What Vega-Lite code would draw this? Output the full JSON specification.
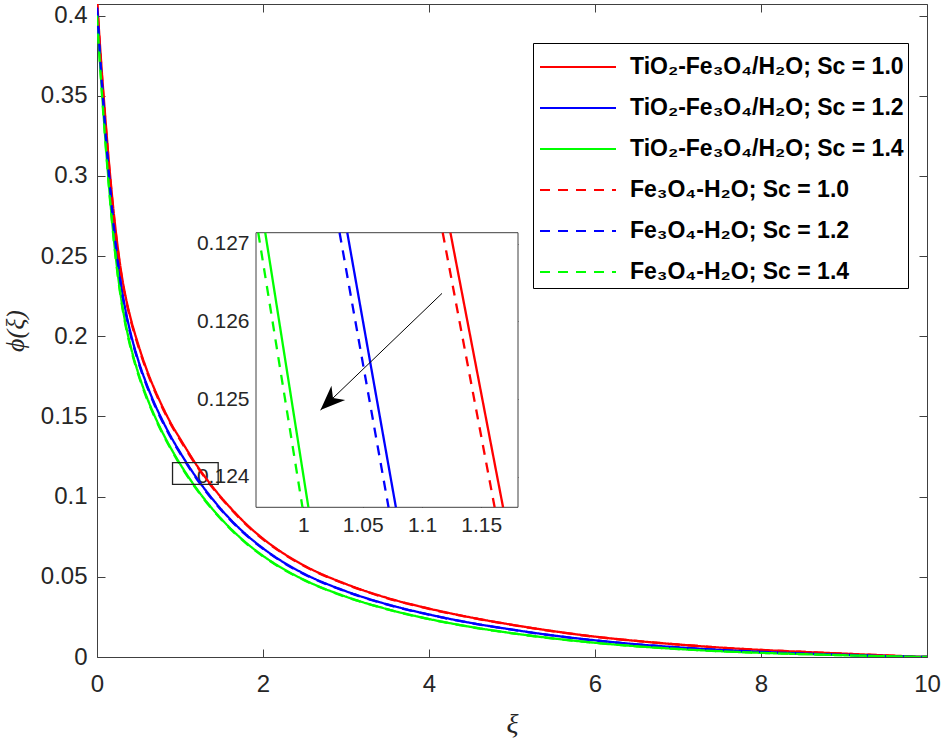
{
  "$schema": "https://vega.github.io/schema/vega-lite/v6.json",
  "width": 830,
  "height": 653,
  "autosize": "none",
  "padding": {"left": 97, "top": 4, "right": 16, "bottom": 83},
  "background": "white",
  "config": {
    "view": {"stroke": "#404040", "strokeWidth": 1},
    "axis": {"grid": false, "labelFlush": false, "domainColor": "#404040", "tickColor": "#404040", "labelColor": "#262626", "labelFont": "Liberation Sans", "titleColor": "#262626", "titleFontWeight": "normal"},
    "legend": {
      "orient": "none", "legendX": 436, "legendY": 39, "padding": 4,
      "strokeColor": "#000000", "fillColor": "#ffffff",
      "symbolType": "M-2,0H2", "symbolSize": 1444, "symbolStrokeWidth": 2, "symbolOffset": 21,
      "labelOffset": 32, "labelFont": "Liberation Sans", "labelFontSize": 23, "labelFontWeight": "bold", "labelColor": "#000000", "labelLimit": 400,
      "rowPadding": 9, "title": null
    }
  },
  "datasets": {
    "curves": [
      {"series": "TiO₂-Fe₃O₄/H₂O; Sc = 1.0", "xi": 0, "phi": 0.41},
      {"series": "TiO₂-Fe₃O₄/H₂O; Sc = 1.0", "xi": 0.05, "phi": 0.3710},
      {"series": "TiO₂-Fe₃O₄/H₂O; Sc = 1.0", "xi": 0.1, "phi": 0.3364},
      {"series": "TiO₂-Fe₃O₄/H₂O; Sc = 1.0", "xi": 0.15, "phi": 0.3050},
      {"series": "TiO₂-Fe₃O₄/H₂O; Sc = 1.0", "xi": 0.2, "phi": 0.2779},
      {"series": "TiO₂-Fe₃O₄/H₂O; Sc = 1.0", "xi": 0.25, "phi": 0.2554},
      {"series": "TiO₂-Fe₃O₄/H₂O; Sc = 1.0", "xi": 0.3, "phi": 0.2373},
      {"series": "TiO₂-Fe₃O₄/H₂O; Sc = 1.0", "xi": 0.35, "phi": 0.2234},
      {"series": "TiO₂-Fe₃O₄/H₂O; Sc = 1.0", "xi": 0.4, "phi": 0.2123},
      {"series": "TiO₂-Fe₃O₄/H₂O; Sc = 1.0", "xi": 0.5, "phi": 0.1943},
      {"series": "TiO₂-Fe₃O₄/H₂O; Sc = 1.0", "xi": 0.6, "phi": 0.1790},
      {"series": "TiO₂-Fe₃O₄/H₂O; Sc = 1.0", "xi": 0.7, "phi": 0.1662},
      {"series": "TiO₂-Fe₃O₄/H₂O; Sc = 1.0", "xi": 0.8, "phi": 0.1549},
      {"series": "TiO₂-Fe₃O₄/H₂O; Sc = 1.0", "xi": 0.9, "phi": 0.1448},
      {"series": "TiO₂-Fe₃O₄/H₂O; Sc = 1.0", "xi": 1.0, "phi": 0.1362},
      {"series": "TiO₂-Fe₃O₄/H₂O; Sc = 1.0", "xi": 1.2, "phi": 0.1197},
      {"series": "TiO₂-Fe₃O₄/H₂O; Sc = 1.0", "xi": 1.4, "phi": 0.1056},
      {"series": "TiO₂-Fe₃O₄/H₂O; Sc = 1.0", "xi": 1.6, "phi": 0.0935},
      {"series": "TiO₂-Fe₃O₄/H₂O; Sc = 1.0", "xi": 1.8, "phi": 0.0828},
      {"series": "TiO₂-Fe₃O₄/H₂O; Sc = 1.0", "xi": 2.0, "phi": 0.0738},
      {"series": "TiO₂-Fe₃O₄/H₂O; Sc = 1.0", "xi": 2.2, "phi": 0.0662},
      {"series": "TiO₂-Fe₃O₄/H₂O; Sc = 1.0", "xi": 2.5, "phi": 0.0569},
      {"series": "TiO₂-Fe₃O₄/H₂O; Sc = 1.0", "xi": 3.0, "phi": 0.0455},
      {"series": "TiO₂-Fe₃O₄/H₂O; Sc = 1.0", "xi": 3.5, "phi": 0.0368},
      {"series": "TiO₂-Fe₃O₄/H₂O; Sc = 1.0", "xi": 4.0, "phi": 0.0302},
      {"series": "TiO₂-Fe₃O₄/H₂O; Sc = 1.0", "xi": 4.5, "phi": 0.0247},
      {"series": "TiO₂-Fe₃O₄/H₂O; Sc = 1.0", "xi": 5.0, "phi": 0.0201},
      {"series": "TiO₂-Fe₃O₄/H₂O; Sc = 1.0", "xi": 5.5, "phi": 0.0161},
      {"series": "TiO₂-Fe₃O₄/H₂O; Sc = 1.0", "xi": 6.0, "phi": 0.0127},
      {"series": "TiO₂-Fe₃O₄/H₂O; Sc = 1.0", "xi": 6.5, "phi": 0.0100},
      {"series": "TiO₂-Fe₃O₄/H₂O; Sc = 1.0", "xi": 7.0, "phi": 0.0078},
      {"series": "TiO₂-Fe₃O₄/H₂O; Sc = 1.0", "xi": 7.5, "phi": 0.0059},
      {"series": "TiO₂-Fe₃O₄/H₂O; Sc = 1.0", "xi": 8.0, "phi": 0.0044},
      {"series": "TiO₂-Fe₃O₄/H₂O; Sc = 1.0", "xi": 8.5, "phi": 0.0032},
      {"series": "TiO₂-Fe₃O₄/H₂O; Sc = 1.0", "xi": 9.0, "phi": 0.0021},
      {"series": "TiO₂-Fe₃O₄/H₂O; Sc = 1.0", "xi": 9.5, "phi": 0.0010},
      {"series": "TiO₂-Fe₃O₄/H₂O; Sc = 1.0", "xi": 10, "phi": 0},
      {"series": "TiO₂-Fe₃O₄/H₂O; Sc = 1.2", "xi": 0, "phi": 0.405},
      {"series": "TiO₂-Fe₃O₄/H₂O; Sc = 1.2", "xi": 0.05, "phi": 0.3656},
      {"series": "TiO₂-Fe₃O₄/H₂O; Sc = 1.2", "xi": 0.1, "phi": 0.3300},
      {"series": "TiO₂-Fe₃O₄/H₂O; Sc = 1.2", "xi": 0.15, "phi": 0.2978},
      {"series": "TiO₂-Fe₃O₄/H₂O; Sc = 1.2", "xi": 0.2, "phi": 0.2701},
      {"series": "TiO₂-Fe₃O₄/H₂O; Sc = 1.2", "xi": 0.25, "phi": 0.2472},
      {"series": "TiO₂-Fe₃O₄/H₂O; Sc = 1.2", "xi": 0.3, "phi": 0.2289},
      {"series": "TiO₂-Fe₃O₄/H₂O; Sc = 1.2", "xi": 0.35, "phi": 0.2146},
      {"series": "TiO₂-Fe₃O₄/H₂O; Sc = 1.2", "xi": 0.4, "phi": 0.2030},
      {"series": "TiO₂-Fe₃O₄/H₂O; Sc = 1.2", "xi": 0.5, "phi": 0.1845},
      {"series": "TiO₂-Fe₃O₄/H₂O; Sc = 1.2", "xi": 0.6, "phi": 0.1698},
      {"series": "TiO₂-Fe₃O₄/H₂O; Sc = 1.2", "xi": 0.7, "phi": 0.1572},
      {"series": "TiO₂-Fe₃O₄/H₂O; Sc = 1.2", "xi": 0.8, "phi": 0.1463},
      {"series": "TiO₂-Fe₃O₄/H₂O; Sc = 1.2", "xi": 0.9, "phi": 0.1365},
      {"series": "TiO₂-Fe₃O₄/H₂O; Sc = 1.2", "xi": 1.0, "phi": 0.1277},
      {"series": "TiO₂-Fe₃O₄/H₂O; Sc = 1.2", "xi": 1.2, "phi": 0.1117},
      {"series": "TiO₂-Fe₃O₄/H₂O; Sc = 1.2", "xi": 1.4, "phi": 0.0980},
      {"series": "TiO₂-Fe₃O₄/H₂O; Sc = 1.2", "xi": 1.6, "phi": 0.0862},
      {"series": "TiO₂-Fe₃O₄/H₂O; Sc = 1.2", "xi": 1.8, "phi": 0.0762},
      {"series": "TiO₂-Fe₃O₄/H₂O; Sc = 1.2", "xi": 2.0, "phi": 0.0678},
      {"series": "TiO₂-Fe₃O₄/H₂O; Sc = 1.2", "xi": 2.2, "phi": 0.0606},
      {"series": "TiO₂-Fe₃O₄/H₂O; Sc = 1.2", "xi": 2.5, "phi": 0.0518},
      {"series": "TiO₂-Fe₃O₄/H₂O; Sc = 1.2", "xi": 3.0, "phi": 0.0410},
      {"series": "TiO₂-Fe₃O₄/H₂O; Sc = 1.2", "xi": 3.5, "phi": 0.0328},
      {"series": "TiO₂-Fe₃O₄/H₂O; Sc = 1.2", "xi": 4.0, "phi": 0.0265},
      {"series": "TiO₂-Fe₃O₄/H₂O; Sc = 1.2", "xi": 4.5, "phi": 0.0213},
      {"series": "TiO₂-Fe₃O₄/H₂O; Sc = 1.2", "xi": 5.0, "phi": 0.0171},
      {"series": "TiO₂-Fe₃O₄/H₂O; Sc = 1.2", "xi": 5.5, "phi": 0.0134},
      {"series": "TiO₂-Fe₃O₄/H₂O; Sc = 1.2", "xi": 6.0, "phi": 0.0104},
      {"series": "TiO₂-Fe₃O₄/H₂O; Sc = 1.2", "xi": 6.5, "phi": 0.0079},
      {"series": "TiO₂-Fe₃O₄/H₂O; Sc = 1.2", "xi": 7.0, "phi": 0.0060},
      {"series": "TiO₂-Fe₃O₄/H₂O; Sc = 1.2", "xi": 7.5, "phi": 0.0044},
      {"series": "TiO₂-Fe₃O₄/H₂O; Sc = 1.2", "xi": 8.0, "phi": 0.0032},
      {"series": "TiO₂-Fe₃O₄/H₂O; Sc = 1.2", "xi": 8.5, "phi": 0.0022},
      {"series": "TiO₂-Fe₃O₄/H₂O; Sc = 1.2", "xi": 9.0, "phi": 0.0014},
      {"series": "TiO₂-Fe₃O₄/H₂O; Sc = 1.2", "xi": 9.5, "phi": 0.0006},
      {"series": "TiO₂-Fe₃O₄/H₂O; Sc = 1.2", "xi": 10, "phi": 0},
      {"series": "TiO₂-Fe₃O₄/H₂O; Sc = 1.4", "xi": 0, "phi": 0.400},
      {"series": "TiO₂-Fe₃O₄/H₂O; Sc = 1.4", "xi": 0.05, "phi": 0.3602},
      {"series": "TiO₂-Fe₃O₄/H₂O; Sc = 1.4", "xi": 0.1, "phi": 0.3235},
      {"series": "TiO₂-Fe₃O₄/H₂O; Sc = 1.4", "xi": 0.15, "phi": 0.2905},
      {"series": "TiO₂-Fe₃O₄/H₂O; Sc = 1.4", "xi": 0.2, "phi": 0.2622},
      {"series": "TiO₂-Fe₃O₄/H₂O; Sc = 1.4", "xi": 0.25, "phi": 0.2391},
      {"series": "TiO₂-Fe₃O₄/H₂O; Sc = 1.4", "xi": 0.3, "phi": 0.2207},
      {"series": "TiO₂-Fe₃O₄/H₂O; Sc = 1.4", "xi": 0.35, "phi": 0.2063},
      {"series": "TiO₂-Fe₃O₄/H₂O; Sc = 1.4", "xi": 0.4, "phi": 0.1948},
      {"series": "TiO₂-Fe₃O₄/H₂O; Sc = 1.4", "xi": 0.5, "phi": 0.1766},
      {"series": "TiO₂-Fe₃O₄/H₂O; Sc = 1.4", "xi": 0.6, "phi": 0.1620},
      {"series": "TiO₂-Fe₃O₄/H₂O; Sc = 1.4", "xi": 0.7, "phi": 0.1497},
      {"series": "TiO₂-Fe₃O₄/H₂O; Sc = 1.4", "xi": 0.8, "phi": 0.1389},
      {"series": "TiO₂-Fe₃O₄/H₂O; Sc = 1.4", "xi": 0.9, "phi": 0.1293},
      {"series": "TiO₂-Fe₃O₄/H₂O; Sc = 1.4", "xi": 1.0, "phi": 0.1205},
      {"series": "TiO₂-Fe₃O₄/H₂O; Sc = 1.4", "xi": 1.2, "phi": 0.1050},
      {"series": "TiO₂-Fe₃O₄/H₂O; Sc = 1.4", "xi": 1.4, "phi": 0.0918},
      {"series": "TiO₂-Fe₃O₄/H₂O; Sc = 1.4", "xi": 1.6, "phi": 0.0806},
      {"series": "TiO₂-Fe₃O₄/H₂O; Sc = 1.4", "xi": 1.8, "phi": 0.0711},
      {"series": "TiO₂-Fe₃O₄/H₂O; Sc = 1.4", "xi": 2.0, "phi": 0.0631},
      {"series": "TiO₂-Fe₃O₄/H₂O; Sc = 1.4", "xi": 2.2, "phi": 0.0563},
      {"series": "TiO₂-Fe₃O₄/H₂O; Sc = 1.4", "xi": 2.5, "phi": 0.0480},
      {"series": "TiO₂-Fe₃O₄/H₂O; Sc = 1.4", "xi": 3.0, "phi": 0.0376},
      {"series": "TiO₂-Fe₃O₄/H₂O; Sc = 1.4", "xi": 3.5, "phi": 0.0298},
      {"series": "TiO₂-Fe₃O₄/H₂O; Sc = 1.4", "xi": 4.0, "phi": 0.0237},
      {"series": "TiO₂-Fe₃O₄/H₂O; Sc = 1.4", "xi": 4.5, "phi": 0.0188},
      {"series": "TiO₂-Fe₃O₄/H₂O; Sc = 1.4", "xi": 5.0, "phi": 0.01486},
      {"series": "TiO₂-Fe₃O₄/H₂O; Sc = 1.4", "xi": 5.5, "phi": 0.01157},
      {"series": "TiO₂-Fe₃O₄/H₂O; Sc = 1.4", "xi": 6.0, "phi": 0.00886},
      {"series": "TiO₂-Fe₃O₄/H₂O; Sc = 1.4", "xi": 6.5, "phi": 0.0067},
      {"series": "TiO₂-Fe₃O₄/H₂O; Sc = 1.4", "xi": 7.0, "phi": 0.0050},
      {"series": "TiO₂-Fe₃O₄/H₂O; Sc = 1.4", "xi": 7.5, "phi": 0.00364},
      {"series": "TiO₂-Fe₃O₄/H₂O; Sc = 1.4", "xi": 8.0, "phi": 0.0026},
      {"series": "TiO₂-Fe₃O₄/H₂O; Sc = 1.4", "xi": 8.5, "phi": 0.0018},
      {"series": "TiO₂-Fe₃O₄/H₂O; Sc = 1.4", "xi": 9.0, "phi": 0.0011},
      {"series": "TiO₂-Fe₃O₄/H₂O; Sc = 1.4", "xi": 9.5, "phi": 0.0005},
      {"series": "TiO₂-Fe₃O₄/H₂O; Sc = 1.4", "xi": 10, "phi": 0},
      {"series": "Fe₃O₄-H₂O; Sc = 1.0", "xi": 0, "phi": 0.41},
      {"series": "Fe₃O₄-H₂O; Sc = 1.0", "xi": 0.05, "phi": 0.3691},
      {"series": "Fe₃O₄-H₂O; Sc = 1.0", "xi": 0.1, "phi": 0.3347},
      {"series": "Fe₃O₄-H₂O; Sc = 1.0", "xi": 0.15, "phi": 0.3035},
      {"series": "Fe₃O₄-H₂O; Sc = 1.0", "xi": 0.2, "phi": 0.2765},
      {"series": "Fe₃O₄-H₂O; Sc = 1.0", "xi": 0.25, "phi": 0.2541},
      {"series": "Fe₃O₄-H₂O; Sc = 1.0", "xi": 0.3, "phi": 0.2361},
      {"series": "Fe₃O₄-H₂O; Sc = 1.0", "xi": 0.35, "phi": 0.2223},
      {"series": "Fe₃O₄-H₂O; Sc = 1.0", "xi": 0.4, "phi": 0.2112},
      {"series": "Fe₃O₄-H₂O; Sc = 1.0", "xi": 0.5, "phi": 0.1933},
      {"series": "Fe₃O₄-H₂O; Sc = 1.0", "xi": 0.6, "phi": 0.1781},
      {"series": "Fe₃O₄-H₂O; Sc = 1.0", "xi": 0.7, "phi": 0.1654},
      {"series": "Fe₃O₄-H₂O; Sc = 1.0", "xi": 0.8, "phi": 0.1541},
      {"series": "Fe₃O₄-H₂O; Sc = 1.0", "xi": 0.9, "phi": 0.1441},
      {"series": "Fe₃O₄-H₂O; Sc = 1.0", "xi": 1.0, "phi": 0.1355},
      {"series": "Fe₃O₄-H₂O; Sc = 1.0", "xi": 1.2, "phi": 0.1191},
      {"series": "Fe₃O₄-H₂O; Sc = 1.0", "xi": 1.4, "phi": 0.1051},
      {"series": "Fe₃O₄-H₂O; Sc = 1.0", "xi": 1.6, "phi": 0.0930},
      {"series": "Fe₃O₄-H₂O; Sc = 1.0", "xi": 1.8, "phi": 0.0824},
      {"series": "Fe₃O₄-H₂O; Sc = 1.0", "xi": 2.0, "phi": 0.0734},
      {"series": "Fe₃O₄-H₂O; Sc = 1.0", "xi": 2.2, "phi": 0.0659},
      {"series": "Fe₃O₄-H₂O; Sc = 1.0", "xi": 2.5, "phi": 0.0566},
      {"series": "Fe₃O₄-H₂O; Sc = 1.0", "xi": 3.0, "phi": 0.0453},
      {"series": "Fe₃O₄-H₂O; Sc = 1.0", "xi": 3.5, "phi": 0.0366},
      {"series": "Fe₃O₄-H₂O; Sc = 1.0", "xi": 4.0, "phi": 0.0300},
      {"series": "Fe₃O₄-H₂O; Sc = 1.0", "xi": 4.5, "phi": 0.0246},
      {"series": "Fe₃O₄-H₂O; Sc = 1.0", "xi": 5.0, "phi": 0.0200},
      {"series": "Fe₃O₄-H₂O; Sc = 1.0", "xi": 5.5, "phi": 0.0160},
      {"series": "Fe₃O₄-H₂O; Sc = 1.0", "xi": 6.0, "phi": 0.0126},
      {"series": "Fe₃O₄-H₂O; Sc = 1.0", "xi": 6.5, "phi": 0.0100},
      {"series": "Fe₃O₄-H₂O; Sc = 1.0", "xi": 7.0, "phi": 0.0078},
      {"series": "Fe₃O₄-H₂O; Sc = 1.0", "xi": 7.5, "phi": 0.0059},
      {"series": "Fe₃O₄-H₂O; Sc = 1.0", "xi": 8.0, "phi": 0.0044},
      {"series": "Fe₃O₄-H₂O; Sc = 1.0", "xi": 8.5, "phi": 0.0032},
      {"series": "Fe₃O₄-H₂O; Sc = 1.0", "xi": 9.0, "phi": 0.0021},
      {"series": "Fe₃O₄-H₂O; Sc = 1.0", "xi": 9.5, "phi": 0.0010},
      {"series": "Fe₃O₄-H₂O; Sc = 1.0", "xi": 10, "phi": 0},
      {"series": "Fe₃O₄-H₂O; Sc = 1.2", "xi": 0, "phi": 0.405},
      {"series": "Fe₃O₄-H₂O; Sc = 1.2", "xi": 0.05, "phi": 0.3638},
      {"series": "Fe₃O₄-H₂O; Sc = 1.2", "xi": 0.1, "phi": 0.3284},
      {"series": "Fe₃O₄-H₂O; Sc = 1.2", "xi": 0.15, "phi": 0.2963},
      {"series": "Fe₃O₄-H₂O; Sc = 1.2", "xi": 0.2, "phi": 0.2687},
      {"series": "Fe₃O₄-H₂O; Sc = 1.2", "xi": 0.25, "phi": 0.2460},
      {"series": "Fe₃O₄-H₂O; Sc = 1.2", "xi": 0.3, "phi": 0.2278},
      {"series": "Fe₃O₄-H₂O; Sc = 1.2", "xi": 0.35, "phi": 0.2135},
      {"series": "Fe₃O₄-H₂O; Sc = 1.2", "xi": 0.4, "phi": 0.2020},
      {"series": "Fe₃O₄-H₂O; Sc = 1.2", "xi": 0.5, "phi": 0.1836},
      {"series": "Fe₃O₄-H₂O; Sc = 1.2", "xi": 0.6, "phi": 0.1690},
      {"series": "Fe₃O₄-H₂O; Sc = 1.2", "xi": 0.7, "phi": 0.1564},
      {"series": "Fe₃O₄-H₂O; Sc = 1.2", "xi": 0.8, "phi": 0.1456},
      {"series": "Fe₃O₄-H₂O; Sc = 1.2", "xi": 0.9, "phi": 0.1358},
      {"series": "Fe₃O₄-H₂O; Sc = 1.2", "xi": 1.0, "phi": 0.1271},
      {"series": "Fe₃O₄-H₂O; Sc = 1.2", "xi": 1.2, "phi": 0.1111},
      {"series": "Fe₃O₄-H₂O; Sc = 1.2", "xi": 1.4, "phi": 0.0975},
      {"series": "Fe₃O₄-H₂O; Sc = 1.2", "xi": 1.6, "phi": 0.0858},
      {"series": "Fe₃O₄-H₂O; Sc = 1.2", "xi": 1.8, "phi": 0.0758},
      {"series": "Fe₃O₄-H₂O; Sc = 1.2", "xi": 2.0, "phi": 0.0675},
      {"series": "Fe₃O₄-H₂O; Sc = 1.2", "xi": 2.2, "phi": 0.0603},
      {"series": "Fe₃O₄-H₂O; Sc = 1.2", "xi": 2.5, "phi": 0.0515},
      {"series": "Fe₃O₄-H₂O; Sc = 1.2", "xi": 3.0, "phi": 0.0408},
      {"series": "Fe₃O₄-H₂O; Sc = 1.2", "xi": 3.5, "phi": 0.0326},
      {"series": "Fe₃O₄-H₂O; Sc = 1.2", "xi": 4.0, "phi": 0.0264},
      {"series": "Fe₃O₄-H₂O; Sc = 1.2", "xi": 4.5, "phi": 0.0212},
      {"series": "Fe₃O₄-H₂O; Sc = 1.2", "xi": 5.0, "phi": 0.0170},
      {"series": "Fe₃O₄-H₂O; Sc = 1.2", "xi": 5.5, "phi": 0.0133},
      {"series": "Fe₃O₄-H₂O; Sc = 1.2", "xi": 6.0, "phi": 0.0103},
      {"series": "Fe₃O₄-H₂O; Sc = 1.2", "xi": 6.5, "phi": 0.0079},
      {"series": "Fe₃O₄-H₂O; Sc = 1.2", "xi": 7.0, "phi": 0.0060},
      {"series": "Fe₃O₄-H₂O; Sc = 1.2", "xi": 7.5, "phi": 0.0044},
      {"series": "Fe₃O₄-H₂O; Sc = 1.2", "xi": 8.0, "phi": 0.0032},
      {"series": "Fe₃O₄-H₂O; Sc = 1.2", "xi": 8.5, "phi": 0.0022},
      {"series": "Fe₃O₄-H₂O; Sc = 1.2", "xi": 9.0, "phi": 0.0014},
      {"series": "Fe₃O₄-H₂O; Sc = 1.2", "xi": 9.5, "phi": 0.0006},
      {"series": "Fe₃O₄-H₂O; Sc = 1.2", "xi": 10, "phi": 0},
      {"series": "Fe₃O₄-H₂O; Sc = 1.4", "xi": 0, "phi": 0.400},
      {"series": "Fe₃O₄-H₂O; Sc = 1.4", "xi": 0.05, "phi": 0.3584},
      {"series": "Fe₃O₄-H₂O; Sc = 1.4", "xi": 0.1, "phi": 0.3219},
      {"series": "Fe₃O₄-H₂O; Sc = 1.4", "xi": 0.15, "phi": 0.2890},
      {"series": "Fe₃O₄-H₂O; Sc = 1.4", "xi": 0.2, "phi": 0.2609},
      {"series": "Fe₃O₄-H₂O; Sc = 1.4", "xi": 0.25, "phi": 0.2379},
      {"series": "Fe₃O₄-H₂O; Sc = 1.4", "xi": 0.3, "phi": 0.2196},
      {"series": "Fe₃O₄-H₂O; Sc = 1.4", "xi": 0.35, "phi": 0.2053},
      {"series": "Fe₃O₄-H₂O; Sc = 1.4", "xi": 0.4, "phi": 0.1938},
      {"series": "Fe₃O₄-H₂O; Sc = 1.4", "xi": 0.5, "phi": 0.1757},
      {"series": "Fe₃O₄-H₂O; Sc = 1.4", "xi": 0.6, "phi": 0.1612},
      {"series": "Fe₃O₄-H₂O; Sc = 1.4", "xi": 0.7, "phi": 0.1490},
      {"series": "Fe₃O₄-H₂O; Sc = 1.4", "xi": 0.8, "phi": 0.1382},
      {"series": "Fe₃O₄-H₂O; Sc = 1.4", "xi": 0.9, "phi": 0.1287},
      {"series": "Fe₃O₄-H₂O; Sc = 1.4", "xi": 1.0, "phi": 0.1199},
      {"series": "Fe₃O₄-H₂O; Sc = 1.4", "xi": 1.2, "phi": 0.1045},
      {"series": "Fe₃O₄-H₂O; Sc = 1.4", "xi": 1.4, "phi": 0.0913},
      {"series": "Fe₃O₄-H₂O; Sc = 1.4", "xi": 1.6, "phi": 0.0802},
      {"series": "Fe₃O₄-H₂O; Sc = 1.4", "xi": 1.8, "phi": 0.0707},
      {"series": "Fe₃O₄-H₂O; Sc = 1.4", "xi": 2.0, "phi": 0.0628},
      {"series": "Fe₃O₄-H₂O; Sc = 1.4", "xi": 2.2, "phi": 0.0560},
      {"series": "Fe₃O₄-H₂O; Sc = 1.4", "xi": 2.5, "phi": 0.0478},
      {"series": "Fe₃O₄-H₂O; Sc = 1.4", "xi": 3.0, "phi": 0.0374},
      {"series": "Fe₃O₄-H₂O; Sc = 1.4", "xi": 3.5, "phi": 0.0297},
      {"series": "Fe₃O₄-H₂O; Sc = 1.4", "xi": 4.0, "phi": 0.0236},
      {"series": "Fe₃O₄-H₂O; Sc = 1.4", "xi": 4.5, "phi": 0.0187},
      {"series": "Fe₃O₄-H₂O; Sc = 1.4", "xi": 5.0, "phi": 0.0148},
      {"series": "Fe₃O₄-H₂O; Sc = 1.4", "xi": 5.5, "phi": 0.0115},
      {"series": "Fe₃O₄-H₂O; Sc = 1.4", "xi": 6.0, "phi": 0.0088},
      {"series": "Fe₃O₄-H₂O; Sc = 1.4", "xi": 6.5, "phi": 0.0067},
      {"series": "Fe₃O₄-H₂O; Sc = 1.4", "xi": 7.0, "phi": 0.0050},
      {"series": "Fe₃O₄-H₂O; Sc = 1.4", "xi": 7.5, "phi": 0.0036},
      {"series": "Fe₃O₄-H₂O; Sc = 1.4", "xi": 8.0, "phi": 0.0026},
      {"series": "Fe₃O₄-H₂O; Sc = 1.4", "xi": 8.5, "phi": 0.0018},
      {"series": "Fe₃O₄-H₂O; Sc = 1.4", "xi": 9.0, "phi": 0.0011},
      {"series": "Fe₃O₄-H₂O; Sc = 1.4", "xi": 9.5, "phi": 0.0005},
      {"series": "Fe₃O₄-H₂O; Sc = 1.4", "xi": 10, "phi": 0}
    ],
    "zoom": [
      {"series": "TiO₂-Fe₃O₄/H₂O; Sc = 1.0", "xi": 1.1240, "phi": 0.12714},
      {"series": "TiO₂-Fe₃O₄/H₂O; Sc = 1.0", "xi": 1.1684, "phi": 0.12361},
      {"series": "TiO₂-Fe₃O₄/H₂O; Sc = 1.2", "xi": 1.0370, "phi": 0.12714},
      {"series": "TiO₂-Fe₃O₄/H₂O; Sc = 1.2", "xi": 1.0780, "phi": 0.12361},
      {"series": "TiO₂-Fe₃O₄/H₂O; Sc = 1.4", "xi": 0.9678, "phi": 0.12714},
      {"series": "TiO₂-Fe₃O₄/H₂O; Sc = 1.4", "xi": 1.0042, "phi": 0.12361},
      {"series": "Fe₃O₄-H₂O; Sc = 1.0", "xi": 1.1175, "phi": 0.12714},
      {"series": "Fe₃O₄-H₂O; Sc = 1.0", "xi": 1.1613, "phi": 0.12361},
      {"series": "Fe₃O₄-H₂O; Sc = 1.2", "xi": 1.0305, "phi": 0.12714},
      {"series": "Fe₃O₄-H₂O; Sc = 1.2", "xi": 1.0718, "phi": 0.12361},
      {"series": "Fe₃O₄-H₂O; Sc = 1.4", "xi": 0.9619, "phi": 0.12714},
      {"series": "Fe₃O₄-H₂O; Sc = 1.4", "xi": 0.9992, "phi": 0.12361}
    ]
  },
  "layer": [
    {
      "layer": [
        {
          "data": {"name": "curves"},
          "mark": {"type": "line", "strokeWidth": 2.3, "clip": true, "interpolate": "monotone"},
          "encoding": {
            "x": {"field": "xi", "type": "quantitative", "scale": {"domain": [0, 10], "nice": false, "zero": false},
                  "axis": {"orient": "bottom", "values": [0, 2, 4, 6, 8, 10], "format": "d", "tickSize": -8, "labelPadding": 23, "labelFontSize": 24, "domain": false,
                           "title": "ξ", "titleFont": "Liberation Serif", "titleFontStyle": "italic", "titleFontSize": 28, "titlePadding": 14}},
            "y": {"field": "phi", "type": "quantitative", "scale": {"domain": [0, 0.4072], "nice": false, "zero": false},
                  "axis": {"orient": "left", "values": [0, 0.05, 0.1, 0.15, 0.2, 0.25, 0.3, 0.35, 0.4], "format": "~g", "tickSize": -8, "labelPadding": 18, "labelFontSize": 24, "domain": false,
                           "title": "ϕ(ξ)", "titleFont": "Liberation Serif", "titleFontStyle": "italic", "titleFontSize": 26, "titlePadding": 12}},
            "color": {"field": "series", "type": "nominal",
                      "scale": {"domain": ["TiO₂-Fe₃O₄/H₂O; Sc = 1.0", "TiO₂-Fe₃O₄/H₂O; Sc = 1.2", "TiO₂-Fe₃O₄/H₂O; Sc = 1.4", "Fe₃O₄-H₂O; Sc = 1.0", "Fe₃O₄-H₂O; Sc = 1.2", "Fe₃O₄-H₂O; Sc = 1.4"],
                                "range": ["#ff0000", "#0000ff", "#00ff00", "#ff0000", "#0000ff", "#00ff00"]},
                      "legend": {}},
            "strokeDash": {"field": "series", "type": "nominal",
                      "scale": {"domain": ["TiO₂-Fe₃O₄/H₂O; Sc = 1.0", "TiO₂-Fe₃O₄/H₂O; Sc = 1.2", "TiO₂-Fe₃O₄/H₂O; Sc = 1.4", "Fe₃O₄-H₂O; Sc = 1.0", "Fe₃O₄-H₂O; Sc = 1.2", "Fe₃O₄-H₂O; Sc = 1.4"],
                                "range": [[1, 0], [1, 0], [1, 0], [10, 8], [10, 8], [10, 8]]},
                      "legend": {}}
          }
        },
        {
          "data": {"values": [{"x1": 0.91, "x2": 1.46, "y1": 0.1077, "y2": 0.1212}]},
          "mark": {"type": "rect", "filled": false, "stroke": "#222222", "strokeWidth": 1.3},
          "encoding": {
            "x": {"field": "x1", "type": "quantitative", "axis": {"orient": "top", "values": [0, 2, 4, 6, 8, 10], "labels": false, "domain": false, "tickSize": -8, "title": null}},
            "x2": {"field": "x2"},
            "y": {"field": "y1", "type": "quantitative", "axis": {"orient": "right", "values": [0, 0.05, 0.1, 0.15, 0.2, 0.25, 0.3, 0.35, 0.4], "labels": false, "domain": false, "tickSize": -8, "title": null}},
            "y2": {"field": "y2"}
          }
        }
      ],
      "resolve": {"axis": {"x": "independent", "y": "independent"}}
    },
    {
      "layer": [
        {
          "data": {"values": [{"x1": 0.960, "x2": 1.181, "y1": 0.12361, "y2": 0.12714}]},
          "mark": {"type": "rect", "fill": "#ffffff", "stroke": "#404040", "strokeWidth": 1},
          "encoding": {
            "x": {"field": "x1", "type": "quantitative", "scale": {"domain": [0.960, 1.181], "range": [159, 421], "nice": false, "zero": false},
                  "axis": {"orient": "bottom", "offset": -149.7, "values": [1, 1.05, 1.1, 1.15], "format": "~g", "tickSize": -5, "labelPadding": 12, "labelFontSize": 21, "domain": false, "title": null}},
            "x2": {"field": "x2"},
            "y": {"field": "y1", "type": "quantitative", "scale": {"domain": [0.12361, 0.12714], "range": [503.3, 228.7], "nice": false, "zero": false},
                  "axis": {"orient": "left", "offset": -159, "values": [0.124, 0.125, 0.126, 0.127], "format": "~g", "tickSize": -5, "labelPadding": 12, "labelFontSize": 21, "domain": false, "title": null}},
            "y2": {"field": "y2"}
          }
        },
        {
          "data": {"name": "zoom"},
          "mark": {"type": "line", "strokeWidth": 2.3},
          "encoding": {
            "x": {"field": "xi", "type": "quantitative", "axis": {"orient": "top", "offset": -228.7, "values": [1, 1.05, 1.1, 1.15], "labels": false, "domain": false, "tickSize": -5, "title": null}},
            "y": {"field": "phi", "type": "quantitative", "axis": {"orient": "right", "offset": -409, "values": [0.124, 0.125, 0.126, 0.127], "labels": false, "domain": false, "tickSize": -5, "title": null}},
            "color": {"field": "series", "type": "nominal"},
            "strokeDash": {"field": "series", "type": "nominal"}
          }
        },
        {
          "data": {"values": [{"x1": 1.1169, "y1": 0.12636, "x2": 1.0144, "y2": 0.12486}]},
          "mark": {"type": "rule", "stroke": "#000000", "strokeWidth": 1},
          "encoding": {
            "x": {"field": "x1", "type": "quantitative", "axis": null},
            "y": {"field": "y1", "type": "quantitative", "axis": null},
            "x2": {"field": "x2"},
            "y2": {"field": "y2"}
          }
        },
        {
          "data": {"values": [{"x2": 1.0144, "y2": 0.12486}]},
          "mark": {"type": "point", "shape": "M0,0L0.8,2L0,1.4L-0.8,2Z", "angle": 226, "size": 615, "filled": true, "color": "#000000", "opacity": 1, "strokeWidth": 0},
          "encoding": {
            "x": {"field": "x2", "type": "quantitative", "axis": null},
            "y": {"field": "y2", "type": "quantitative", "axis": null}
          }
        }
      ],
      "resolve": {"axis": {"x": "independent", "y": "independent"}}
    }
  ],
  "resolve": {"scale": {"x": "independent", "y": "independent"}}
}
